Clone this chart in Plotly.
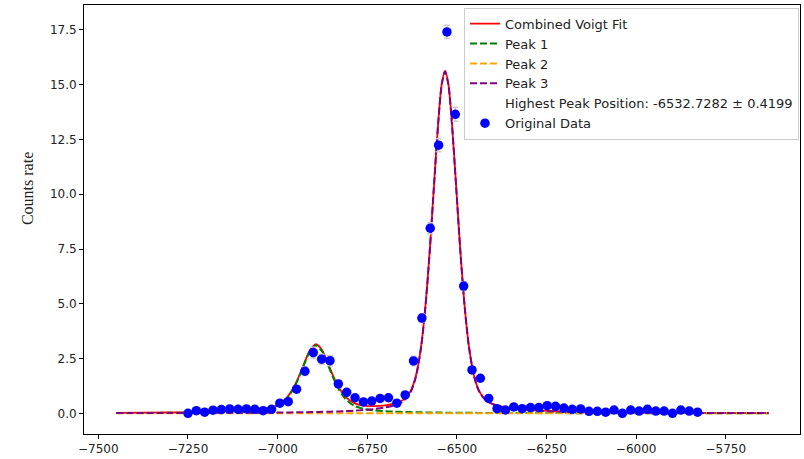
import plotly.graph_objects as go

# ---- Original data ----
data_x = [-7250.0, -7226.7, -7203.4, -7180.1, -7156.8, -7133.5, -7110.2, -7086.9, -7063.6, -7040.3,
          -7017.0, -6993.7, -6970.4, -6947.1, -6923.8, -6900.5, -6877.2, -6853.9, -6830.6, -6807.3,
          -6784.0, -6760.7, -6737.4, -6714.1, -6690.8, -6667.5, -6644.2, -6620.9, -6597.6, -6574.3,
          -6551.0, -6527.7, -6504.4, -6481.1, -6457.8, -6434.5, -6411.2, -6387.9, -6364.6, -6341.3,
          -6318.0, -6294.7, -6271.4, -6248.1, -6224.8, -6201.5, -6178.2, -6154.9, -6131.6, -6108.3,
          -6085.0, -6061.7, -6038.4, -6015.1, -5991.8, -5968.5, -5945.2, -5921.9, -5898.6, -5875.3,
          -5852.0, -5828.7]
data_y = [0.00, 0.12, 0.05, 0.14, 0.17, 0.20, 0.18, 0.20, 0.18, 0.12,
          0.18, 0.46, 0.53, 1.10, 1.92, 2.77, 2.47, 2.40, 1.34, 0.96,
          0.71, 0.52, 0.56, 0.68, 0.71, 0.46, 0.84, 2.39, 4.35, 8.45,
          12.24, 17.41, 13.65, 5.81, 1.98, 1.60, 0.68, 0.21, 0.15, 0.29,
          0.21, 0.26, 0.26, 0.35, 0.32, 0.24, 0.18, 0.20, 0.09, 0.09,
          0.05, 0.15, 0.00, 0.15, 0.10, 0.18, 0.10, 0.10, 0.00, 0.15,
          0.10, 0.05]
data_err = [0.03, 0.06, 0.04, 0.06, 0.07, 0.07, 0.07, 0.07, 0.07, 0.06,
            0.07, 0.10, 0.10, 0.15, 0.20, 0.25, 0.23, 0.23, 0.17, 0.14,
            0.12, 0.10, 0.10, 0.12, 0.12, 0.10, 0.13, 0.22, 0.18, 0.25,
            0.30, 0.30, 0.32, 0.20, 0.12, 0.10, 0.07, 0.05, 0.05, 0.05,
            0.05, 0.05, 0.05, 0.05, 0.05, 0.05, 0.05, 0.05, 0.05, 0.05,
            0.05, 0.05, 0.05, 0.05, 0.05, 0.05, 0.05, 0.05, 0.05, 0.05,
            0.05, 0.05]

# ---- Fit curves (values at these x positions) ----
fit_x = [-7450, -7300, -7200, -7100, -7050, -7000, -6975, -6955, -6940, -6925,
         -6910, -6893, -6876, -6861, -6846, -6831, -6811, -6786, -6760, -6730,
         -6700, -6675, -6650, -6630, -6615, -6600, -6588, -6576, -6564, -6552,
         -6542, -6533, -6524, -6514, -6502, -6490, -6478, -6466, -6451, -6436,
         -6416, -6391, -6363, -6333, -6283, -6200, -6100, -6000, -5850, -5630]
fit_total = [0.021, 0.036, 0.058, 0.109, 0.173, 0.379, 0.700, 1.189, 1.710, 2.318,
             2.875, 3.160, 2.886, 2.339, 1.742, 1.232, 0.760, 0.463, 0.351, 0.327,
             0.364, 0.441, 0.613, 0.990, 1.668, 3.034, 4.851, 7.358, 10.365, 13.293,
             15.061, 15.629, 15.058, 13.287, 10.355, 7.343, 4.832, 3.011, 1.639, 0.954,
             0.567, 0.378, 0.271, 0.202, 0.133, 0.078, 0.048, 0.033, 0.020, 0.012]
peak1_y = [0.012, 0.023, 0.040, 0.085, 0.144, 0.343, 0.660, 1.145, 1.663, 2.267,
           2.820, 3.100, 2.820, 2.267, 1.663, 1.145, 0.660, 0.343, 0.203, 0.133,
           0.098, 0.078, 0.063, 0.054, 0.049, 0.044, 0.041, 0.038, 0.035, 0.033,
           0.031, 0.029, 0.028, 0.027, 0.025, 0.024, 0.022, 0.021, 0.020, 0.018,
           0.017, 0.015, 0.014, 0.012, 0.010, 0.008, 0.006, 0.005, 0.004, 0.003]
peak2_y = [0.0] * 50
peak3_y = [0.009, 0.013, 0.018, 0.024, 0.029, 0.036, 0.040, 0.044, 0.047, 0.051,
           0.055, 0.060, 0.066, 0.072, 0.079, 0.087, 0.100, 0.120, 0.148, 0.194,
           0.266, 0.363, 0.550, 0.936, 1.619, 2.990, 4.810, 7.320, 10.330, 13.260,
           15.030, 15.600, 15.030, 13.260, 10.330, 7.320, 4.810, 2.990, 1.619, 0.936,
           0.550, 0.363, 0.257, 0.190, 0.123, 0.070, 0.042, 0.028, 0.017, 0.010]

peak_label = "Highest Peak Position: -6532.7282 ± 0.4199"

x_ticks = [-7500, -7250, -7000, -6750, -6500, -6250, -6000, -5750]
y_ticks = [0.0, 2.5, 5.0, 7.5, 10.0, 12.5, 15.0, 17.5]

FONT = "DejaVu Sans"

fig = go.Figure()
fig.add_trace(go.Scatter(x=fit_x, y=fit_total, mode="lines", name="Combined Voigt Fit",
                         line=dict(color="red", width=1.8, shape="spline", smoothing=0.8),
                         legendrank=1))
fig.add_trace(go.Scatter(x=fit_x, y=peak1_y, mode="lines", name="Peak 1",
                         line=dict(color="green", width=2, dash="7px,3px", shape="spline", smoothing=0.8),
                         legendrank=2))
fig.add_trace(go.Scatter(x=fit_x, y=peak2_y, mode="lines", name="Peak 2",
                         line=dict(color="orange", width=2, dash="7px,3px", shape="spline", smoothing=0.8),
                         legendrank=3))
fig.add_trace(go.Scatter(x=fit_x, y=peak3_y, mode="lines", name="Peak 3",
                         line=dict(color="purple", width=2, dash="7px,3px", shape="spline", smoothing=0.8),
                         legendrank=4))
fig.add_trace(go.Scatter(x=[None], y=[None], mode="lines", name=peak_label,
                         line=dict(color="rgba(0,0,0,0)", width=0), legendrank=5))
fig.add_trace(go.Scatter(x=data_x, y=data_y, mode="markers", name="Original Data",
                         marker=dict(color="blue", size=9.5),
                         error_y=dict(type="data", array=data_err, visible=True,
                                      color="#cccccc", thickness=1.5, width=3),
                         legendrank=6))

fig.update_layout(
    width=804, height=459,
    margin=dict(l=84, r=4, t=5, b=25),
    plot_bgcolor="white", paper_bgcolor="white",
    font=dict(family=FONT, size=12, color="black"),
    showlegend=True,
    legend=dict(x=0.5307, y=0.9937, xanchor="left", yanchor="top",
                bgcolor="rgba(255,255,255,0.85)", bordercolor="#cccccc", borderwidth=1,
                font=dict(family=FONT, size=13, color="#222222"),
                tracegroupgap=0, itemwidth=30),
    xaxis=dict(range=[-7540, -5543], tickmode="array", tickvals=x_ticks,
               showgrid=False, zeroline=False, showline=True, mirror=True,
               linecolor="black", linewidth=1, ticks="outside", ticklen=4,
               tickcolor="black", tickfont=dict(family=FONT, size=12, color="#222222")),
    yaxis=dict(range=[-0.945, 18.64], tickmode="array", tickvals=y_ticks,
               tickformat=".1f",
               showgrid=False, zeroline=False, showline=True, mirror=True,
               linecolor="black", linewidth=1, ticks="outside", ticklen=4,
               tickcolor="black", tickfont=dict(family=FONT, size=12, color="#222222")),
    annotations=[dict(text="Counts rate", xref="paper", yref="paper",
                      x=-0.0796, y=0.571, xanchor="center", yanchor="middle",
                      textangle=-90, showarrow=False,
                      font=dict(family="Liberation Serif", size=16, color="#222222"))],
)

fig.write_html("out.html")
